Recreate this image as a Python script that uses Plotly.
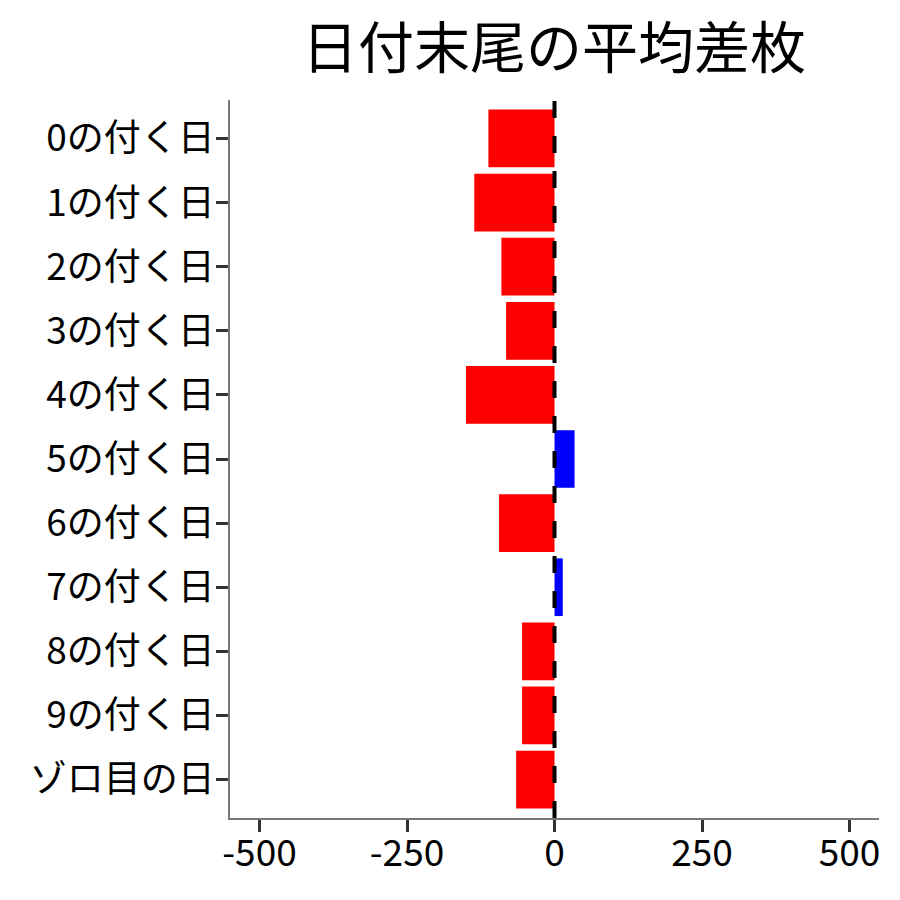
import plotly.graph_objects as go

# 日付末尾ごとの平均差枚
categories = ["0の付く日", "1の付く日", "2の付く日", "3の付く日", "4の付く日",
              "5の付く日", "6の付く日", "7の付く日", "8の付く日", "9の付く日",
              "ゾロ目の日"]
values = [-112, -136, -90, -82, -150, 34, -94, 14, -55, -55, -65]
tick_vals = [-500, -250, 0, 250, 500]

FONT = "Noto Sans CJK JP"

colors = ["#0000FF" if v > 0 else "#FF0000" for v in values]

fig = go.Figure()

fig.add_trace(go.Bar(
    x=values, y=categories, orientation="h",
    marker=dict(color=colors, line=dict(width=0)),
    width=0.9, showlegend=False,
))

# 0 の位置に破線
fig.add_shape(type="line", xref="x", yref="paper",
              x0=0, x1=0, y0=0, y1=1, layer="above",
              line=dict(color="black", width=4, dash="17px,18px"))

# body の 8px 余白の分だけ小さくする
fig.update_layout(
    width=892, height=892,
    margin=dict(l=222, r=21, t=92, b=82),
    plot_bgcolor="white", paper_bgcolor="white",
    font=dict(family=FONT, color="black"),
    title=dict(text="日付末尾の平均差枚", x=0.612, xanchor="center",
               y=0.955, yanchor="middle", font=dict(size=56, family=FONT)),
    bargap=0.1,
)

fig.update_xaxes(
    range=[-550, 550], tickvals=tick_vals,
    ticktext=[str(t) for t in tick_vals],
    showgrid=False, zeroline=False,
    showline=True, linecolor="#777777", linewidth=1.5,
    ticks="outside", ticklen=12, tickwidth=3, tickcolor="#333333",
    ticklabelstandoff=-10,
    tickfont=dict(size=37, family=FONT, color="black"),
)

fig.update_yaxes(
    categoryorder="array", categoryarray=categories,
    range=[10.6, -0.6],
    showgrid=False, zeroline=False,
    showline=True, linecolor="#777777", linewidth=1.5,
    ticks="outside", ticklen=12, tickwidth=3, tickcolor="#333333",
    ticklabelstandoff=-6,
    tickfont=dict(size=37, family=FONT, color="black"),
)

fig.write_html("out.html")
